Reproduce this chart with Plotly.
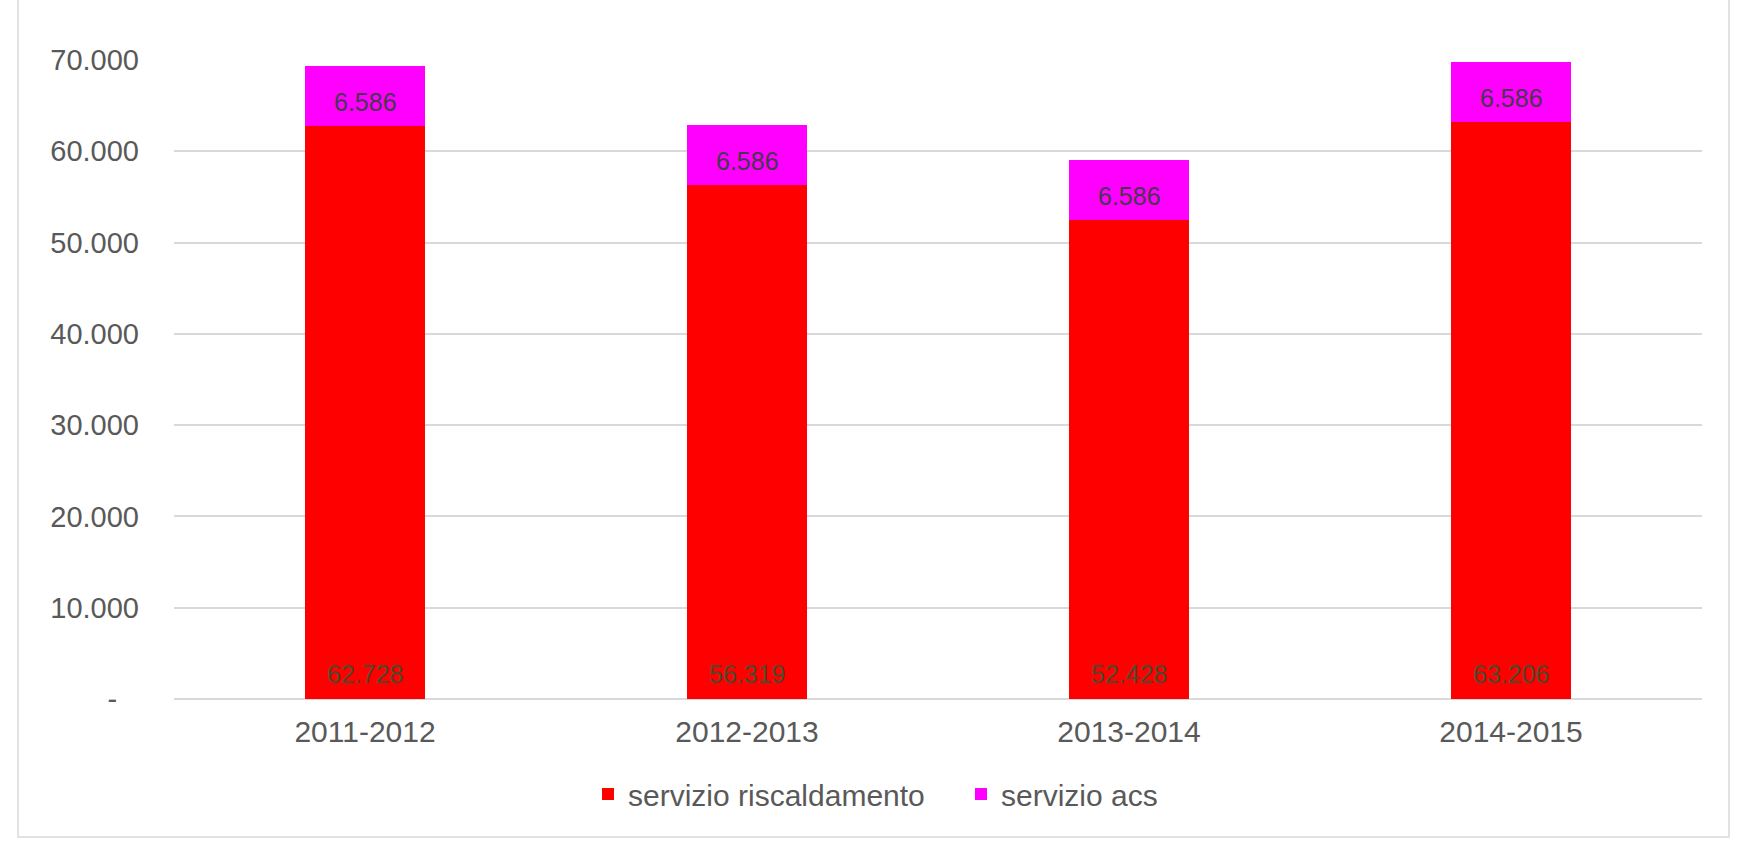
import plotly.graph_objects as go

categories = ["2011-2012", "2012-2013", "2013-2014", "2014-2015"]
riscaldamento = [62728, 56319, 52428, 63206]
acs = [6586, 6586, 6586, 6586]
series_names = ["servizio riscaldamento", "servizio acs"]
y_tickvals = [0, 10000, 20000, 30000, 40000, 50000, 60000, 70000]
y_ticktext = ["-\u00a0\u00a0\u2009", "10.000", "20.000", "30.000", "40.000",
              "50.000", "60.000", "70.000"]

W, H = 1741, 847
L, R, T, B = 174, 39, 60, 148
pw, ph = W - L - R, H - T - B

FONT = "Liberation Sans, Arial, sans-serif"

def fmt(v):
    return f"{v:,}".replace(",", ".")

fig = go.Figure()
fig.add_trace(go.Bar(
    x=categories, y=riscaldamento, name=series_names[0],
    marker=dict(color="#FF0000", line=dict(width=0)),
    textposition="none", hoverinfo="x+y",
))
fig.add_trace(go.Bar(
    x=categories, y=acs, name=series_names[1],
    marker=dict(color="#FF00FF", line=dict(width=0)),
    textposition="none", hoverinfo="x+y",
))

for c, v in zip(categories, riscaldamento):
    fig.add_annotation(
        x=c, y=0, xref="x", yref="y", text=fmt(v), showarrow=False,
        yanchor="middle", yshift=25,
        font=dict(family=FONT, size=25, color="#4a4a2c"),
    )

for c, base, v in zip(categories, riscaldamento, acs):
    fig.add_annotation(
        x=c, y=base + v / 2, xref="x", yref="y", text=fmt(v), showarrow=False,
        yanchor="middle", yshift=-6,
        font=dict(family=FONT, size=25, color="#46384f"),
    )

def px2x(px):
    return (px - L) / pw

def px2y(py):
    return (H - B - py) / ph

# outer chart frame
fig.add_shape(type="rect", xref="paper", yref="paper",
              x0=px2x(18), x1=px2x(1729), y0=px2y(837), y1=px2y(-5),
              line=dict(color="#d9d9d9", width=1.5), fillcolor="rgba(0,0,0,0)",
              layer="below")

fig.update_layout(
    width=W, height=H,
    margin=dict(l=L, r=R, t=T, b=B, pad=0),
    barmode="stack", bargap=0.686,
    paper_bgcolor="white", plot_bgcolor="white",
    separators=",.",
    font=dict(family=FONT, size=30, color="#595959"),
    showlegend=True,
    legend=dict(orientation="h", x=px2x(588), xanchor="left",
                y=px2y(794), yanchor="middle",
                entrywidth=328, entrywidthmode="pixels",
                font=dict(family=FONT, size=30, color="#595959"),
                itemclick=False, traceorder="normal"),
    xaxis=dict(showgrid=False, showline=False, zeroline=False,
               ticks="", tickfont=dict(size=30, color="#595959"),
               ticklabelstandoff=12),
    yaxis=dict(range=[0, 70000], tickvals=y_tickvals, ticktext=y_ticktext,
               showgrid=True, gridcolor="#d9d9d9", gridwidth=1.5,
               zeroline=True, zerolinecolor="#d9d9d9", zerolinewidth=1.5,
               showline=False, ticks="",
               tickfont=dict(size=29, color="#595959"),
               ticklabelstandoff=34),
)

fig.write_html("out.html")
